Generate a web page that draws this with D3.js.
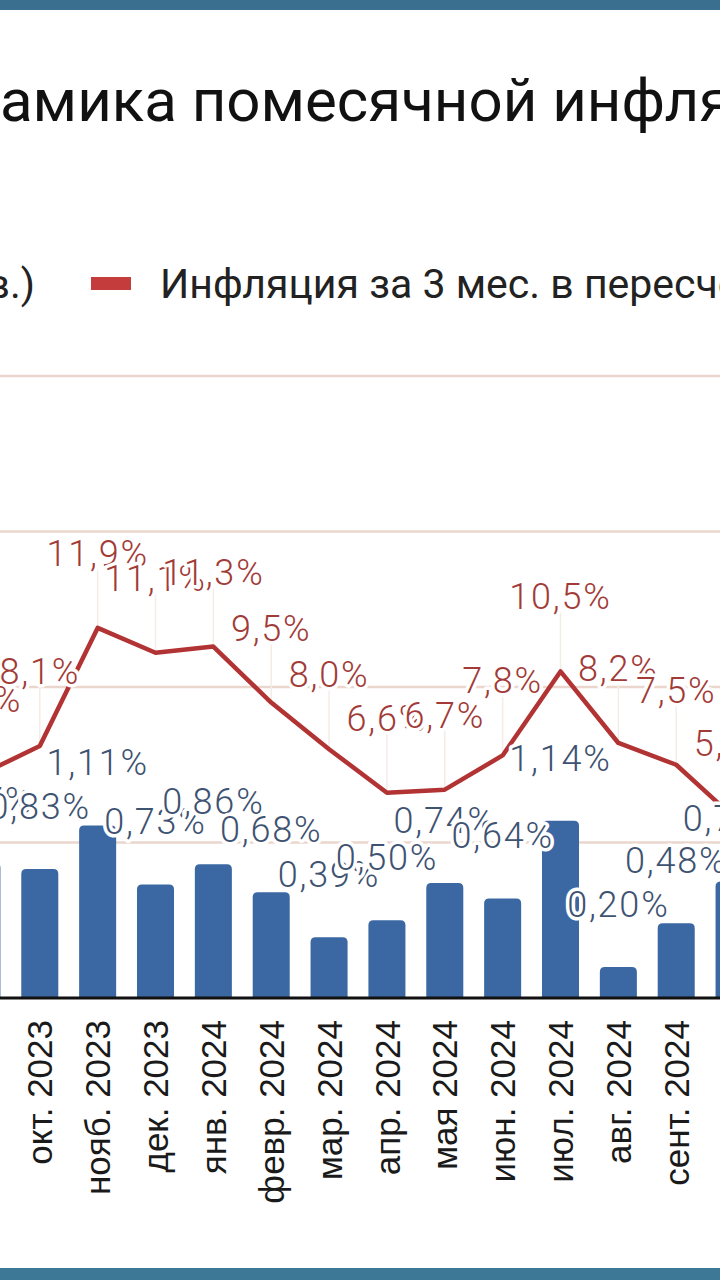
<!DOCTYPE html>
<html><head><meta charset="utf-8">
<script src="https://cdn.jsdelivr.net/npm/d3@7"></script>
<style>
html,body{margin:0;padding:0;background:#fff;overflow:hidden;}
svg{display:block;}
</style></head>
<body>
<svg id="chart" width="720" height="1280"></svg>
<script>
const categories = ["сент. 2023","окт. 2023","нояб. 2023","дек. 2023","янв. 2024","февр. 2024","мар. 2024","апр. 2024","мая 2024","июн. 2024","июл. 2024","авг. 2024","сент. 2024","окт. 2024"];
const monthlyInflation = [0.87,0.83,1.11,0.73,0.86,0.68,0.39,0.50,0.74,0.64,1.14,0.20,0.48,0.75];
const saarInflation = [7.2,8.1,11.9,11.1,11.3,9.5,8.0,6.6,6.7,7.8,10.5,8.2,7.5,5.8];
const leftTicks = [0,1,2,3,4];
const titleHidden = "Дин";
const titleText = "Динамика помесячной инфляции";
const legendLeft = "Инфляция м/м (лев.)";
const legendRight = "Инфляция за 3 мес. в пересчете на год (SAAR, прав.)";

const svg = d3.select("#chart");
const W = 720, H = 1280;
const baseY = 998, topY = 376;

const x = d3.scaleBand().domain(categories).range([-47, 763]).paddingInner(0.36).paddingOuter(0.18);
const yBar = d3.scaleLinear().domain([0, 4]).range([baseY, topY]);
const yLine = d3.scaleLinear().domain([0, 20]).range([baseY, topY]);
const cx = d => x(d) + x.bandwidth() / 2;

const fmt2 = v => d3.format(".2f")(v).replace(".", ",") + "%";
const fmt1 = v => d3.format(".1f")(v).replace(".", ",") + "%";

// bands
svg.append("rect").attr("x",0).attr("y",0).attr("width",W).attr("height",10).attr("fill","#3b6f90");
svg.append("rect").attr("x",0).attr("y",1268).attr("width",W).attr("height",12).attr("fill","#3d7896");

// title (its first letters fall outside the left edge, as in the reference)
const titleFont = "Roboto, 'Noto Sans', sans-serif";
const probe = svg.append("text").attr("font-family",titleFont).attr("font-size",60).text(titleHidden);
const hiddenW = probe.node().getComputedTextLength();
probe.remove();
svg.append("text").attr("x",-hiddenW).attr("y",121)
  .attr("font-family",titleFont).attr("font-size",60)
  .attr("fill","#111").text(titleText);

// legend
svg.append("text").attr("x",35).attr("y",298).attr("text-anchor","end")
  .attr("font-family",titleFont).attr("font-size",41)
  .attr("fill","#222").text(legendLeft);
svg.append("rect").attr("x",91).attr("y",277).attr("width",40).attr("height",13).attr("fill","#c43c3c");
svg.append("text").attr("x",160).attr("y",298)
  .attr("font-family",titleFont).attr("font-size",41)
  .attr("fill","#222").text(legendRight);

// gridlines
svg.append("g").selectAll("line").data(leftTicks.filter(t => t > 0)).join("line")
  .attr("x1",0).attr("x2",W).attr("y1",d => yBar(d)).attr("y2",d => yBar(d))
  .attr("stroke","#ead6cc").attr("stroke-width",2.5);

// bars with rounded tops
const r = 5;
svg.append("g").selectAll("path").data(categories).join("path")
  .attr("fill","#3b68a3")
  .attr("d",(d,i) => {
    const x0 = x(d), w = x.bandwidth(), y0 = yBar(monthlyInflation[i]), y1 = yBar(0);
    return `M${x0},${y1}V${y0+r}Q${x0},${y0} ${x0+r},${y0}H${x0+w-r}Q${x0+w},${y0} ${x0+w},${y0+r}V${y1}Z`;
  });

// axis baseline
svg.append("line").attr("x1",0).attr("x2",W).attr("y1",baseY).attr("y2",baseY)
  .attr("stroke","#111").attr("stroke-width",3);

// leader lines (faint)
const lineLabelOffset = 75;
svg.append("g").selectAll("line").data(categories).join("line")
  .attr("x1",d => cx(d)).attr("x2",d => cx(d))
  .attr("y1",(d,i) => yLine(saarInflation[i]) - lineLabelOffset + 16)
  .attr("y2",(d,i) => yLine(saarInflation[i]))
  .attr("stroke","#f4ece7").attr("stroke-width",1.5);

// line
const lineGen = d3.line().x((d,i) => cx(categories[i])).y(d => yLine(d));
svg.append("path").datum(saarInflation).attr("d",lineGen)
  .attr("fill","none").attr("stroke","#b23333").attr("stroke-width",4.5)
  .attr("stroke-linejoin","round");

// labels
const labelFont = "Roboto, 'Open Sans', sans-serif";
function halo(sel){
  sel.attr("paint-order","stroke").attr("stroke","#fff").attr("stroke-width",7)
     .attr("stroke-linejoin","round");
}
svg.append("g").selectAll("text").data(categories).join("text")
  .attr("x",d => cx(d)).attr("y",(d,i) => yBar(monthlyInflation[i]) - 63)
  .attr("dy","0.36em").attr("text-anchor","middle")
  .attr("font-family",labelFont).attr("font-weight",300).attr("font-size",36)
  .attr("letter-spacing",1.8).attr("fill","#3e5272")
  .text((d,i) => fmt2(monthlyInflation[i])).call(halo);

svg.append("g").selectAll("text").data(categories).join("text")
  .attr("x",d => cx(d)).attr("y",(d,i) => yLine(saarInflation[i]) - lineLabelOffset)
  .attr("dy","0.36em").attr("text-anchor","middle")
  .attr("font-family",labelFont).attr("font-weight",300).attr("font-size",36)
  .attr("letter-spacing",1.8).attr("fill","#a23b37")
  .text((d,i) => fmt1(saarInflation[i])).call(halo);

// x axis labels
svg.append("g").selectAll("text").data(categories).join("text")
  .attr("transform",d => `translate(${cx(d)},1020) rotate(-90)`)
  .attr("dy","0.36em").attr("text-anchor","end")
  .attr("font-family","'Liberation Sans', Arial, sans-serif").attr("font-size",35)
  .attr("fill","#1a1a1a").text(d => d);
</script>
</body></html>
